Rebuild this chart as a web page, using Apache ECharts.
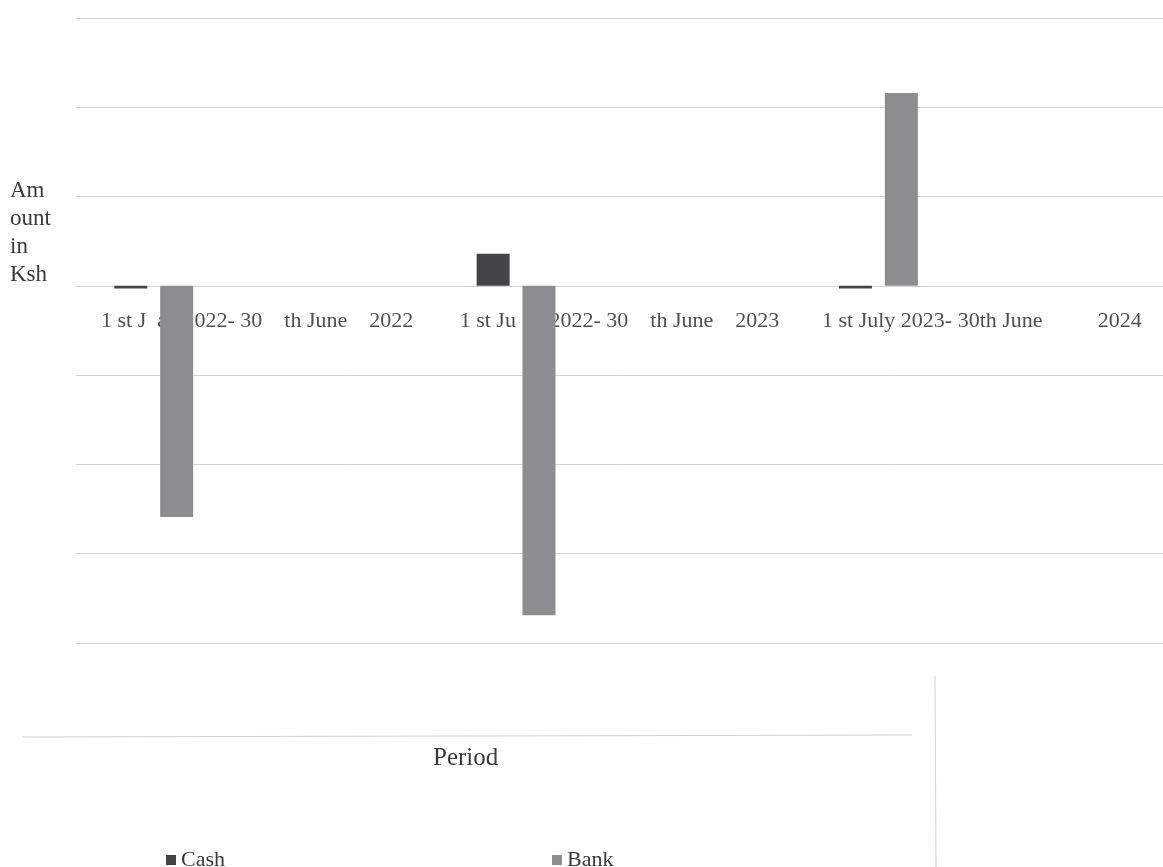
<!DOCTYPE html>
<html>
<head>
<meta charset="utf-8">
<script src="https://cdn.jsdelivr.net/npm/echarts@6/dist/echarts.min.js"></script>
<style>
  html, body { margin: 0; padding: 0; background: #fff; }
  #chart { width: 1163px; height: 867px; }
</style>
</head>
<body>
<div id="chart"></div>
<script>
// Periods as printed under the bars (spacing as seen in the scan)
const categories = [
  '1 st J  an 2022- 30    th June    2022',
  '1 st Ju  ly 2022- 30    th June    2023',
  '1 st July 2023- 30th June          2024'
];
// Values in units of one gridline step (no value labels in the source)
const cashValues = [-0.03, 0.36, -0.03];
const bankValues = [-2.59, -3.69, 2.16];
const seriesNames = ['Cash', 'Bank'];
const yAxisTitle = 'Am\nount\nin\nKsh';
const xAxisTitle = 'Period';

const textColor = '#3a3a3a';
const gridColor = '#d2d2da';
const serif = '"Liberation Serif", "DejaVu Serif", serif';

const chart = echarts.init(document.getElementById('chart'));
chart.setOption({
  backgroundColor: '#ffffff',
  animation: false,
  grid: { left: 76, right: 0, top: 18, bottom: 224, containLabel: false },
  xAxis: {
    type: 'category',
    data: categories,
    position: 'bottom',
    offset: -357,
    axisLine: { show: true, onZero: false, lineStyle: { color: gridColor, width: 1 } },
    axisTick: { show: false },
    axisLabel: {
      interval: 0, margin: 24, color: '#505050',
      fontFamily: serif, fontSize: 22
    },
    splitLine: { show: false }
  },
  yAxis: {
    type: 'value',
    min: -4, max: 3, interval: 1,
    axisLine: { show: false },
    axisTick: { show: false },
    axisLabel: { show: false },
    splitLine: { show: true, lineStyle: { color: gridColor, width: 1 } }
  },
  legend: {
    data: seriesNames,
    left: 161, top: 844,
    itemWidth: 10, itemHeight: 10, itemGap: 327,
    icon: 'rect',
    textStyle: { color: textColor, fontFamily: serif, fontSize: 22 }
  },
  series: [
    { name: seriesNames[0], type: 'bar', data: cashValues, barWidth: 33, barGap: '39%',
      itemStyle: { color: '#434348' } },
    { name: seriesNames[1], type: 'bar', data: bankValues, barWidth: 33, barGap: '39%',
      itemStyle: { color: '#8d8d91' } },
    { name: 'spacer', type: 'bar', data: categories.map(() => null), barWidth: 194, barGap: '39%',
      itemStyle: { color: 'transparent' }, silent: true }
  ],
  graphic: [
    { type: 'text', left: 10, top: 177,
      style: { text: yAxisTitle, fill: textColor, font: '23px ' + serif, lineHeight: 28 } },
    { type: 'text', left: 433, top: 746,
      style: { text: xAxisTitle, fill: textColor, font: '25px ' + serif } },
    { type: 'line', shape: { x1: 22, y1: 737, x2: 912, y2: 735 },
      style: { stroke: gridColor, lineWidth: 1 } },
    { type: 'line', shape: { x1: 935, y1: 676, x2: 936, y2: 867 },
      style: { stroke: gridColor, lineWidth: 1 } }
  ]
});
</script>
</body>
</html>
